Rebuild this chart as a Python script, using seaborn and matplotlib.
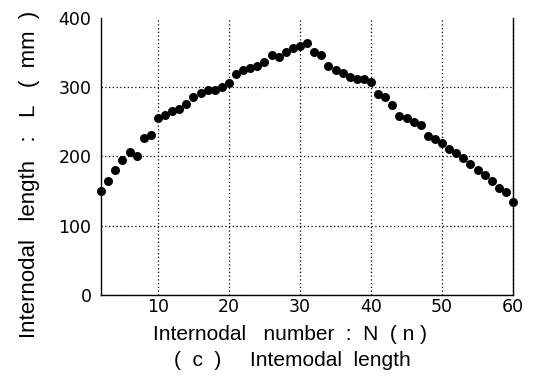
import matplotlib
matplotlib.use("Agg")
import matplotlib.pyplot as plt
import seaborn as sns
import pandas as pd

internode_number = list(range(2, 61))
internode_length = [150, 164, 180, 195, 206, 200, 226, 231, 256, 260,
                    265, 268, 276, 285, 292, 296, 296, 300, 306, 319,
                    325, 328, 330, 336, 347, 343, 351, 357, 360, 364,
                    351, 347, 330, 325, 320, 315, 312, 311, 307, 290,
                    286, 274, 258, 255, 250, 246, 230, 225, 220, 211,
                    205, 198, 189, 180, 173, 164, 155, 148, 134]
x_ticks = [10, 20, 30, 40, 50, 60]
y_ticks = [0, 100, 200, 300, 400]

df = pd.DataFrame({"N": internode_number, "L": internode_length})

sns.set_style("white")
plt.rcParams['font.family'] = ['DejaVu Sans']

fig = plt.figure(figsize=(5.35, 3.91), dpi=100)
ax = fig.add_axes([0.189, 0.2455, 0.770, 0.709])

sns.scatterplot(data=df, x="N", y="L", ax=ax, color="black", s=42,
                edgecolor="black", linewidth=0, zorder=3, clip_on=False)

ax.set_xlim(2, 60)
ax.set_ylim(0, 400)
ax.set_xticks(x_ticks)
ax.set_yticks(y_ticks)
ax.tick_params(length=0, labelsize=12.5, colors="black")
ax.tick_params(axis="x", pad=2)
ax.tick_params(axis="y", pad=7)
ax.grid(True, linestyle=(0, (1, 2)), color="black", linewidth=0.9)
for gl, v in zip(ax.yaxis.get_gridlines(), y_ticks):
    if v == 400:
        gl.set_visible(False)
for s in ["left", "bottom", "right"]:
    ax.spines[s].set_visible(True)
    ax.spines[s].set_color("black")
    ax.spines[s].set_linewidth(1.0)
ax.spines["top"].set_visible(False)

ax.set_xlabel("")
ax.set_ylabel("")
lab_font = ['Liberation Sans', 'DejaVu Sans']
fig.text(290 / 535, 1 - 334 / 391, "Internodal   number  :  N  ( n )", ha="center",
         va="center", fontsize=15, color="black", family=lab_font)
fig.text(30 / 535, 1 - 174 / 391, "Internodal   length   :   L   (  mm  )", ha="center",
         va="center", rotation=90, fontsize=16, color="black", family=lab_font)
fig.text(292 / 535, 1 - 361 / 391, "(  c  )     Intemodal  length", ha="center", va="center",
         fontsize=15, color="black", family=lab_font)

fig.savefig("out.png", dpi=100)
